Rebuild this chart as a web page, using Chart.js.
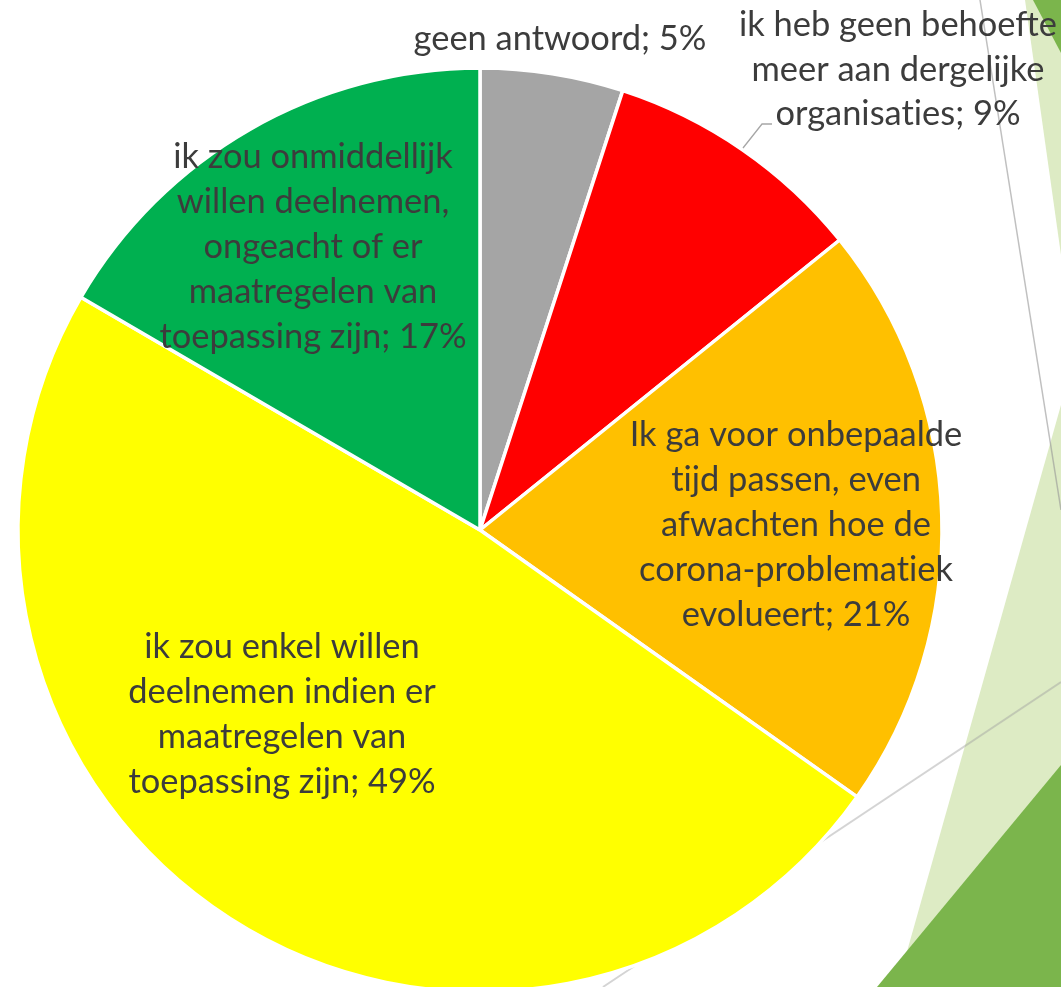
<!DOCTYPE html>
<html>
<head>
<meta charset="utf-8">
<script src="https://cdn.jsdelivr.net/npm/chart.js@4.4.1/dist/chart.umd.min.js"></script>
<style>
  html, body { margin: 0; padding: 0; background: #ffffff; overflow: hidden; }
  #wrap { position: absolute; left: 0; top: 0; width: 1061px; height: 1060px; }
</style>
</head>
<body>
<div id="wrap"><canvas id="c" width="1061" height="1060"></canvas></div>
<script>
// ---- data ----
const categories = [
  'geen antwoord',
  'ik heb geen behoefte meer aan dergelijke organisaties',
  'Ik ga voor onbepaalde tijd passen, even afwachten hoe de corona-problematiek evolueert',
  'ik zou enkel willen deelnemen indien er maatregelen van toepassing zijn',
  'ik zou onmiddellijk willen deelnemen, ongeacht of er maatregelen van toepassing zijn'
];
const shares = [5.0, 9.2, 20.6, 48.6, 16.6];
const percentLabels = ['5%', '9%', '21%', '49%', '17%'];

// ---- label text wrapping (as in the original chart) ----
const labelLines = [
  ['geen antwoord; 5%'],
  ['ik heb geen behoefte', 'meer aan dergelijke', 'organisaties; 9%'],
  ['Ik ga voor onbepaalde', 'tijd passen, even', 'afwachten hoe de', 'corona-problematiek', 'evolueert; 21%'],
  ['ik zou enkel willen', 'deelnemen indien er', 'maatregelen van', 'toepassing zijn; 49%'],
  ['ik zou onmiddellijk', 'willen deelnemen,', 'ongeacht of er', 'maatregelen van', 'toepassing zijn; 17%']
];

// ---- styles / layout ----
const sliceColors = ['#A5A5A5', '#FF0000', '#FFC000', '#FFFF00', '#00B050'];
// label centre offsets relative to the pie centre
const labelOffsets = [[80, -489], [418, -458.5], [316, -3], [-198, 186.5], [-167, -281]];
const lineGap = 44.8;
const textColor = '#3C3C3C';
const fontFamily = 'Lato, "Open Sans", sans-serif';

const decoPlugin = {
  id: 'deco',
  beforeDraw(chart) {
    const ctx = chart.ctx;
    ctx.save();
    ctx.fillStyle = '#ffffff';
    ctx.fillRect(0, 0, chart.width, chart.height);
    // light green shapes
    ctx.fillStyle = '#DDEBC4';
    ctx.beginPath(); ctx.moveTo(1025, 0); ctx.lineTo(1061, 0); ctx.lineTo(1061, 255); ctx.closePath(); ctx.fill();
    ctx.beginPath(); ctx.moveTo(1061, 405); ctx.lineTo(897, 987); ctx.lineTo(1061, 987); ctx.closePath(); ctx.fill();
    // dark green shapes
    ctx.fillStyle = '#7BB54C';
    ctx.beginPath(); ctx.moveTo(1033, 0); ctx.lineTo(1061, 0); ctx.lineTo(1061, 53); ctx.closePath(); ctx.fill();
    ctx.beginPath(); ctx.moveTo(1061, 765); ctx.lineTo(877, 987); ctx.lineTo(1061, 987); ctx.closePath(); ctx.fill();
    // thin decorative lines
    ctx.strokeStyle = 'rgba(150,150,150,0.6)';
    ctx.lineWidth = 1.5;
    ctx.beginPath(); ctx.moveTo(980, 0); ctx.lineTo(1061, 510); ctx.stroke();
    ctx.strokeStyle = 'rgba(160,160,160,0.45)';
    ctx.lineWidth = 2;
    ctx.beginPath(); ctx.moveTo(603, 987); ctx.lineTo(1061, 682); ctx.stroke();
    ctx.restore();
  }
};

const labelPlugin = {
  id: 'sliceLabels',
  afterDraw(chart) {
    const ctx = chart.ctx;
    const arcs = chart.getDatasetMeta(0).data;
    if (!arcs.length) return;
    const cx = arcs[0].x, cy = arcs[0].y;
    ctx.save();
    // fit font size so that widths match the reference
    ctx.font = '36px ' + fontFamily;
    const w = ctx.measureText('geen antwoord; 5%').width;
    const size = 36 * 293 / w;
    ctx.font = size.toFixed(2) + 'px ' + fontFamily;
    const xh = ctx.measureText('x').actualBoundingBoxAscent;
    ctx.fillStyle = textColor;
    ctx.textAlign = 'center';
    ctx.textBaseline = 'alphabetic';
    labelLines.forEach((lines, i) => {
      const [ox, oy] = labelOffsets[i];
      const n = lines.length;
      lines.forEach((ln, k) => {
        const yc = cy + oy + (k - (n - 1) / 2) * lineGap;
        // break the "ti" ligature so letters render separately
        const txt = ln.replace(/t(?=i)/g, 't\u200C');
        ctx.fillText(txt, cx + ox, yc + xh / 2);
      });
    });
    // leader line for the 9% label
    ctx.strokeStyle = '#A6A6A6';
    ctx.lineWidth = 1.3;
    ctx.beginPath();
    ctx.moveTo(cx + 292, cy - 406);
    ctx.lineTo(cx + 282, cy - 406);
    ctx.lineTo(cx + 263, cy - 382);
    ctx.stroke();
    ctx.restore();
  }
};

new Chart(document.getElementById('c'), {
  type: 'pie',
  data: {
    labels: categories,
    datasets: [{
      data: shares,
      backgroundColor: sliceColors,
      borderColor: '#ffffff',
      borderWidth: 3.5,
      radius: 462
    }]
  },
  options: {
    responsive: false,
    animation: false,
    layout: { padding: { left: 0, top: 0, right: 101, bottom: 0 } },
    plugins: { legend: { display: false }, tooltip: { enabled: false } }
  },
  plugins: [decoPlugin, labelPlugin]
});
</script>
</body>
</html>
